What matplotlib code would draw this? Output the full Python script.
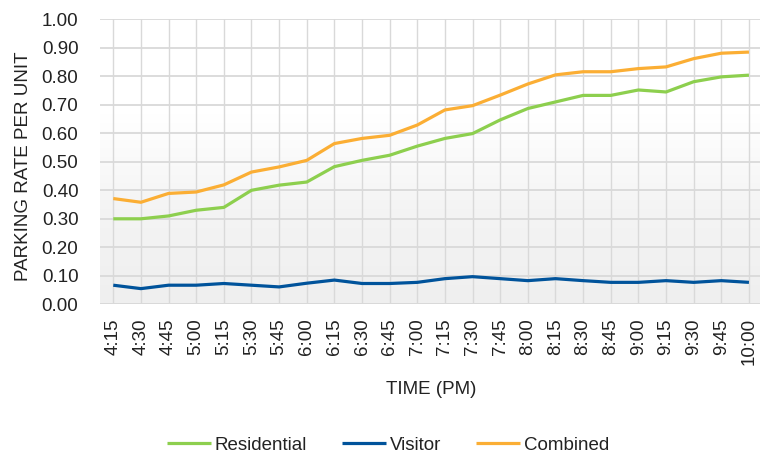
import numpy as np
import matplotlib
matplotlib.use("Agg")
import matplotlib.pyplot as plt
from matplotlib.colors import LinearSegmentedColormap

times = ["4:15", "4:30", "4:45", "5:00", "5:15", "5:30", "5:45", "6:00", "6:15", "6:30",
         "6:45", "7:00", "7:15", "7:30", "7:45", "8:00", "8:15", "8:30", "8:45", "9:00",
         "9:15", "9:30", "9:45", "10:00"]
residential = [0.30, 0.30, 0.31, 0.33, 0.34, 0.40, 0.418, 0.429, 0.483, 0.505, 0.523, 0.555,
               0.582, 0.599, 0.647, 0.687, 0.710, 0.733, 0.733, 0.752, 0.745, 0.781, 0.798, 0.804]
visitor = [0.067, 0.055, 0.067, 0.067, 0.073, 0.067, 0.061, 0.074, 0.085, 0.073, 0.073, 0.077,
           0.090, 0.097, 0.090, 0.083, 0.090, 0.083, 0.077, 0.077, 0.083, 0.077, 0.083, 0.077]
combined = [0.371, 0.358, 0.389, 0.394, 0.419, 0.464, 0.482, 0.505, 0.564, 0.582, 0.593, 0.629,
            0.682, 0.697, 0.734, 0.773, 0.805, 0.816, 0.816, 0.827, 0.833, 0.862, 0.881, 0.885]
yticks = [0.0, 0.1, 0.2, 0.3, 0.4, 0.5, 0.6, 0.7, 0.8, 0.9, 1.0]

plt.rcParams['font.family'] = ['Liberation Sans', 'DejaVu Sans']

W, H = 760, 457
fig = plt.figure(figsize=(W / 100, H / 100), dpi=100)
left, right, top, bottom = 100, 760, 19.3, 304.3
ax = fig.add_axes([left / W, 1 - bottom / H, (right - left) / W, (bottom - top) / H])

x = np.arange(len(times))
xmin, xmax = -0.48, 23.40
ax.set_xlim(xmin, xmax)
ax.set_ylim(0, 1.0)

# gradient background
cmap = LinearSegmentedColormap.from_list("bg", ["#efefef", "#f4f4f4", "#ffffff", "#ffffff"])
grad = np.linspace(0, 1, 256).reshape(-1, 1)
ax.imshow(grad, aspect='auto', cmap=cmap, extent=[xmin, xmax, 0, 1.0], origin='lower', zorder=0)

for yv in yticks:
    ax.axhline(yv, color='#d9d9d9', lw=1.3, zorder=1)
for xv in x:
    ax.axvline(xv, color='#d9d9d9', lw=1.0, zorder=1)
ax.axhline(0, color='#d9d9d9', lw=2.0, zorder=1)

green = '#8DCF4E'
blue = '#00539B'
orange = '#FBAE34'
ax.plot(x, residential, color=green, lw=2.3, label='Residential', zorder=3, solid_capstyle='butt')
ax.plot(x, visitor, color=blue, lw=2.3, label='Visitor', zorder=3, solid_capstyle='butt')
ax.plot(x, combined, color=orange, lw=2.3, label='Combined', zorder=3, solid_capstyle='butt')

for s in ax.spines.values():
    s.set_visible(False)

FS = 13.5
ax.set_yticks(yticks)
ax.set_yticklabels([f"{v:.2f}" for v in yticks])
ax.set_xticks(x)
ax.set_xticklabels(times, rotation=90)
ax.tick_params(axis='y', length=0, pad=15.5, labelsize=FS, labelcolor='#222222')
ax.tick_params(axis='x', length=0, pad=10, labelsize=FS, labelcolor='#222222')

fig.text(24 / W, 1 - 166 / H, "PARKING RATE PER UNIT", rotation=90, ha='center', va='center',
         fontsize=FS, color='#222222')
fig.text(431 / W, 1 - 389 / H, "TIME (PM)", ha='center', va='center', fontsize=FS, color='#222222')

leg = fig.legend(loc='center', bbox_to_anchor=(388 / W, 1 - 445 / H), ncol=3, frameon=False,
                 fontsize=FS, handlelength=2.35, handletextpad=0.2, columnspacing=1.85,
                 borderpad=0.0)
for t in leg.get_texts():
    t.set_color('#222222')

fig.savefig("out.png", dpi=100)
